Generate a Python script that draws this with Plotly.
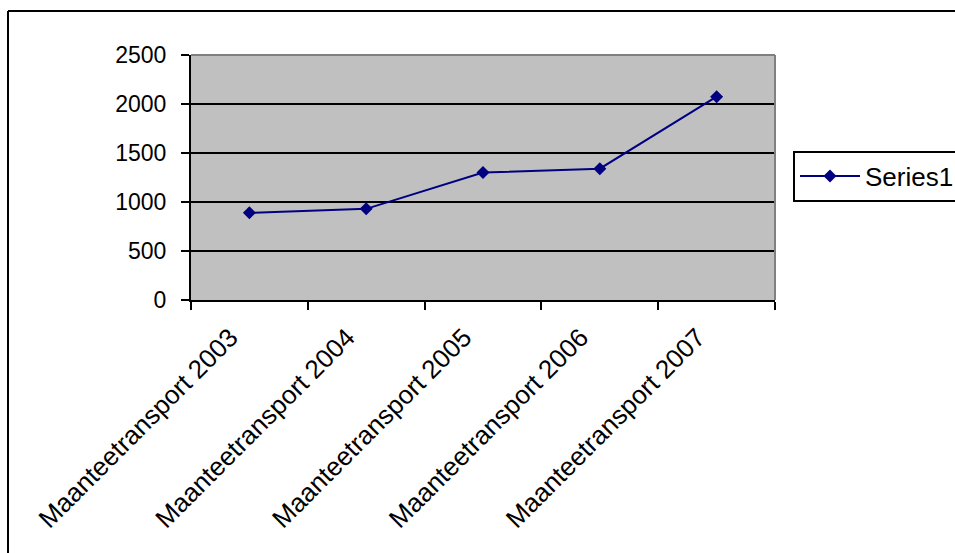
import plotly.graph_objects as go

# Road transport totals per year
categories = [
    "Maanteetransport 2003",
    "Maanteetransport 2004",
    "Maanteetransport 2005",
    "Maanteetransport 2006",
    "Maanteetransport 2007",
]
series1 = [890, 930, 1300, 1340, 2075]
y_ticks = [0, 500, 1000, 1500, 2000, 2500]

W, H = 955, 553
L, R, T, B = 191, 775, 55, 300  # plot area in pixels

FONT = "Liberation Sans, Arial, sans-serif"

def px_x(px):
    return (px - L) / (R - L)

def px_y(py):
    return (B - py) / (B - T)

fig = go.Figure()
fig.add_trace(go.Scatter(
    x=categories,
    y=series1,
    mode="lines+markers",
    name="Series1",
    line=dict(color="#000080", width=2),
    marker=dict(symbol="diamond", size=10, color="#000080"),
))

fig.update_layout(
    width=W,
    height=H,
    margin=dict(l=L, r=W - R, t=T, b=H - B, pad=0, autoexpand=False),
    paper_bgcolor="white",
    plot_bgcolor="#C0C0C0",
    font=dict(family=FONT, size=23, color="black"),
    showlegend=True,
    legend=dict(
        xref="container", yref="container",
        x=793 / W, y=(H - 176) / H, xanchor="left", yanchor="middle",
        bordercolor="black", borderwidth=2, bgcolor="white",
        font=dict(family=FONT, size=26, color="black"),
        itemwidth=60,
    ),
    xaxis=dict(
        type="category",
        range=[-0.5, len(categories) - 0.5],
        tickson="boundaries",
        ticks="outside", ticklen=8, tickwidth=2, tickcolor="black",
        showline=True, linecolor="black", linewidth=2,
        showgrid=False, zeroline=False,
        tickangle=-45,
        tickfont=dict(family=FONT, size=26, color="black"),
        ticklabelstandoff=10,
        ticklabelshift=-19,
        automargin=False,
    ),
    yaxis=dict(
        range=[0, 2500],
        tickvals=y_ticks,
        ticks="outside", ticklen=8, tickwidth=2, tickcolor="black",
        showline=True, linecolor="black", linewidth=2,
        showgrid=True, gridcolor="black", gridwidth=1.5,
        zeroline=False,
        tickfont=dict(family=FONT, size=23, color="black"),
        ticklabelstandoff=10,
        automargin=False,
    ),
)

# Gray border on top and right of the plot area
fig.add_shape(type="line", xref="paper", yref="paper", x0=0, x1=1, y0=1, y1=1,
              line=dict(color="#808080", width=2))
fig.add_shape(type="line", xref="paper", yref="paper", x0=1, x1=1, y0=0, y1=1,
              line=dict(color="#808080", width=2))

# Outer chart frame (left and top edges)
fig.add_shape(type="line", xref="paper", yref="paper",
              x0=px_x(8), x1=px_x(8), y0=px_y(11), y1=px_y(600),
              line=dict(color="black", width=2))
fig.add_shape(type="line", xref="paper", yref="paper",
              x0=px_x(8), x1=px_x(1000), y0=px_y(11), y1=px_y(11),
              line=dict(color="black", width=2))

fig.write_html("out.html")
